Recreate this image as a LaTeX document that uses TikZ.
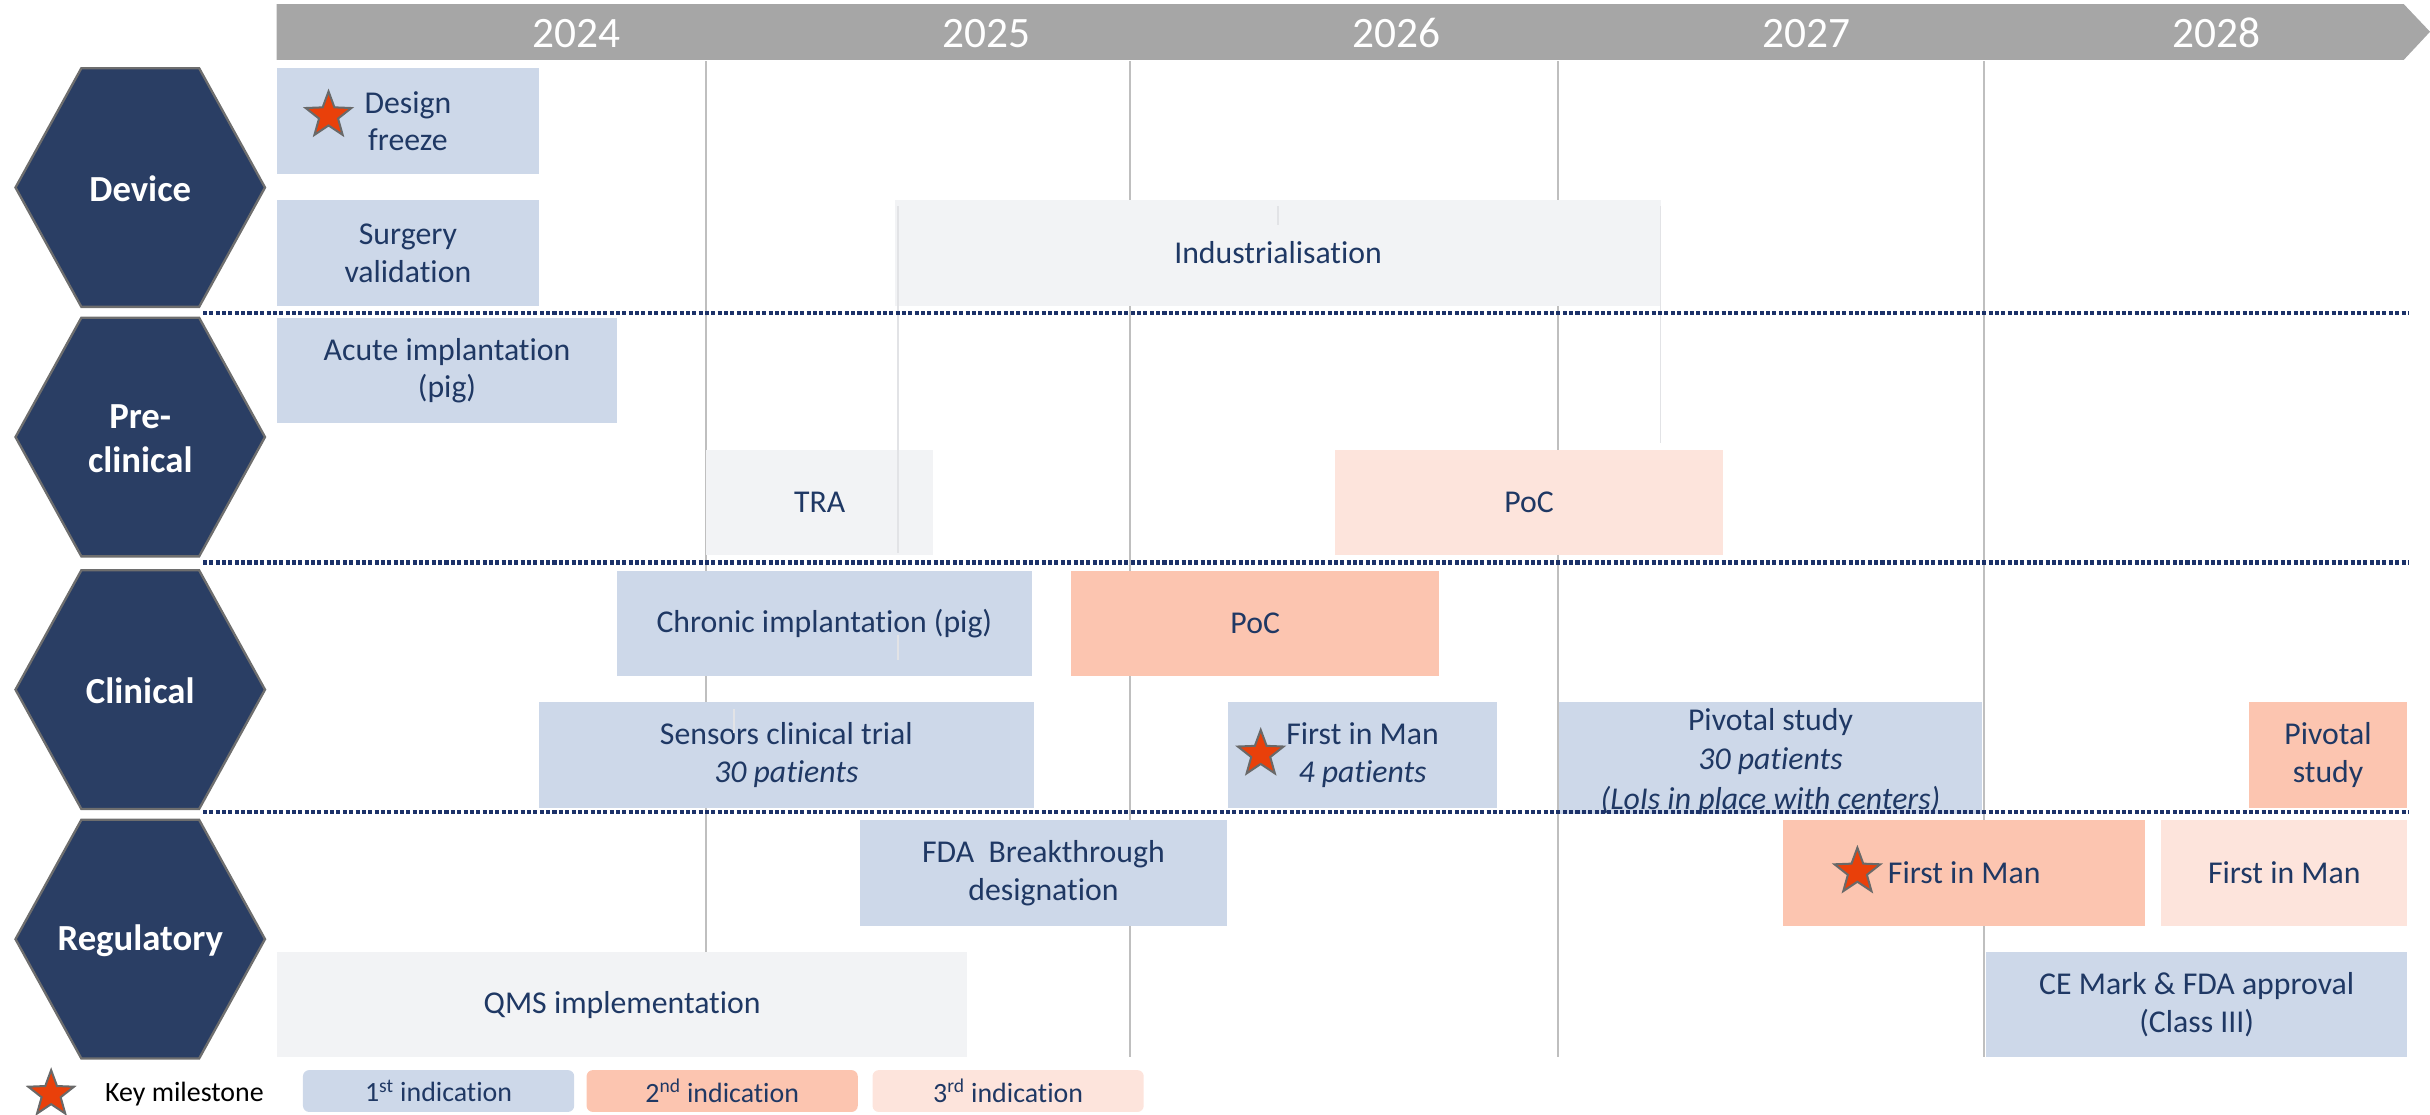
\documentclass[tikz,border=0pt]{standalone}
\usepackage{fontspec}
\setmainfont{Carlito}[Ligatures=NoCommon]
\usepackage{tikz}
\usetikzlibrary{shapes.geometric}

\definecolor{navytext}{RGB}{31,56,100}
\definecolor{hexfill}{RGB}{42,62,100}
\definecolor{hexline}{RGB}{110,110,110}
\definecolor{firstind}{RGB}{205,216,233}
\definecolor{secondind}{RGB}{252,197,176}
\definecolor{thirdind}{RGB}{253,228,220}
\definecolor{greybox}{RGB}{242,243,245}
\definecolor{barfill}{RGB}{166,166,166}
\definecolor{yearline}{RGB}{191,191,191}
\definecolor{faintline}{RGB}{226,227,230}
\definecolor{sepline}{RGB}{28,50,105}
\definecolor{starred}{RGB}{233,64,10}
\definecolor{starline}{RGB}{105,105,105}

\tikzset{
  task/.style={rectangle, inner sep=0pt, minimum height=68pt, anchor=north west,
    text=navytext, align=center, font=\fontsize{20.5}{24.5}\selectfont},
  hexa/.style={fill=hexfill, draw=hexline, line width=1.5pt},
  hexlabel/.style={text=white, align=center, font=\bfseries\fontsize{23.7}{28}\selectfont},
  year/.style={text=white, font=\fontsize{28}{32}\selectfont},
  milestone/.style={star, star points=5, star point ratio=2.4, minimum size=31pt,
    inner sep=0pt, fill=starred, draw=starline, line width=1.3pt},
  separator/.style={sepline, line width=2.9pt, dash pattern=on 2.6pt off 1.5pt},
  faint/.style={faintline, line width=1pt},
  legendbox/.style={rectangle, rounded corners=4pt, minimum width=175pt, minimum height=27pt,
    inner sep=0pt, text=navytext, font=\fontsize{18}{21}\selectfont}
}

\begin{document}
\begin{tikzpicture}[x=1pt,y=-1pt]
\useasboundingbox (0,0) rectangle (1568,719);

% time bar
\fill[barfill] (178.5,2.6) -- (1551,2.6) -- (1568,20.5) -- (1551,38.7) -- (178.5,38.7) -- cycle;
\foreach \yr/\xx in {2024/372,2025/636.5,2026/901,2027/1165.5,2028/1430}
  \node[year] (y\yr) at (\xx,21.5) {\yr};

% year boundaries
\foreach \xl in {455.5,729,1005.5,1280}
  \draw[yearline, line width=1.2pt] (\xl,39.5) -- (\xl,682);

% phases
\foreach \cy/\lbl/\nm in {121/Device/dev, 282/{Pre-\\clinical}/pre, 445/Clinical/clin, 606/Regulatory/reg} {
  \draw[hexa] (10,\cy) -- (52.5,\cy-77) -- (128.5,\cy-77) -- (171,\cy)
    -- (128.5,\cy+77) -- (52.5,\cy+77) -- cycle;
  \node[hexlabel] (\nm) at (90.5,\cy+1) {\lbl};
}

% Device
\node[task, fill=firstind, minimum width=169pt] (design) at (178.5,44) {Design\\freeze};
\node[task, fill=firstind, minimum width=169pt] (surgery) at (178.5,129) {Surgery\\validation};
\node[task, fill=greybox, minimum width=494pt] (industrial) at (577.5,129) {Industrialisation};

% Pre-clinical
\node[task, fill=firstind, minimum width=219.5pt] (acute) at (178.5,205) {Acute implantation\\(pig)};
\node[task, fill=greybox, minimum width=146.5pt] (tra) at (455.5,290) {TRA};
\node[task, fill=thirdind, minimum width=250pt] (pocpre) at (861.5,290) {PoC};

% Clinical
\node[task, fill=firstind, minimum width=267.5pt] (chronic) at (398,368) {Chronic implantation (pig)};
\node[task, fill=secondind, minimum width=237.5pt] (pocclin) at (691,368) {PoC};
\node[task, fill=firstind, minimum width=319pt] (sensors) at (347.7,453) {Sensors clinical trial\\\textit{30 patients}};
\node[task, fill=firstind, minimum width=174pt] (fimclin) at (792,453) {First in Man\\\textit{4 patients}};
\node[task, fill=firstind, minimum width=273.5pt, font=\fontsize{20.5}{25.5}\selectfont] (pivotal) at (1005.5,453)
  {\strut Pivotal study\\\textit{30 patients}\\\textit{(LoIs in place with centers)}};
\node[task, fill=secondind, minimum width=102pt] (pivotaltwo) at (1451,453) {Pivotal\\study};

% Regulatory
\node[task, fill=firstind, minimum width=237pt] (fda) at (554.6,529) {FDA~ Breakthrough\\designation};
\node[task, fill=secondind, minimum width=233.5pt] (fimreg) at (1150.5,529) {First in Man};
\node[task, fill=thirdind, minimum width=158.5pt] (fimregthree) at (1394.5,529) {First in Man};
\node[task, fill=greybox, minimum width=445.5pt] (qms) at (178.5,614) {QMS implementation};
\node[task, fill=firstind, minimum width=271.5pt] (cemark) at (1281.5,614) {CE Mark \& FDA approval\\(Class III)};

% milestones
\node[milestone] (stardesign) at (212,74.5) {};
\node[milestone] (starfim) at (813.5,486.5) {};
\node[milestone] (starfimreg) at (1198.5,562.5) {};

% leftover bar edges
\draw[faint] (579.4,133) -- (579.4,357)
  (579.4,410) -- (579.4,426)
  (1071.5,133) -- (1071.5,286)
  (824.5,133) -- (824.5,145)
  (473.5,457.5) -- (473.5,473);

% phase separators
\foreach \sy in {202,363,524}
  \draw[separator] (131,\sy) -- (1554,\sy);

% legend
\node[milestone] (keystar) at (33,706) {};
\node[inner sep=0pt, font=\fontsize{18}{21}\selectfont] (keytext) at (119,706) {Key milestone};
\node[legendbox, fill=firstind] (legone) at (283,704) {1\textsuperscript{st} indication};
\node[legendbox, fill=secondind] (legtwo) at (466,704) {2\textsuperscript{nd} indication};
\node[legendbox, fill=thirdind] (legthree) at (650.5,704) {3\textsuperscript{rd} indication};
\end{tikzpicture}
\end{document}
